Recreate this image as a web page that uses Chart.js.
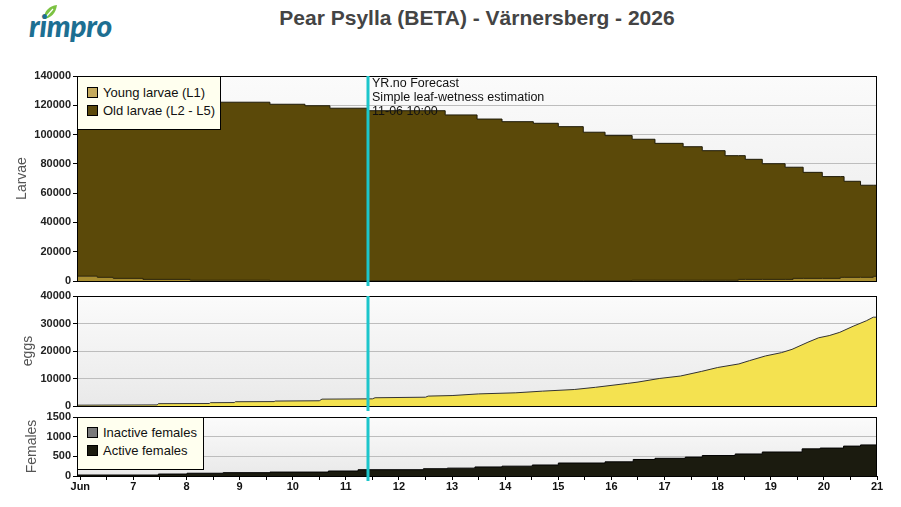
<!DOCTYPE html>
<html>
<head>
<meta charset="utf-8">
<script src="https://cdn.jsdelivr.net/npm/chart.js@4.4.1/dist/chart.umd.min.js"></script>
<style>
  body { margin: 0; background: #fff; width: 901px; height: 507px; overflow: hidden; position: relative; font-family: Arial, "Liberation Sans", sans-serif; }
  .pane { position: absolute; left: 0; width: 901px; }
  #title { position: absolute; left: 0; width: 954px; top: 6px; text-align: center; font-weight: bold; font-size: 21px; color: #444; }
  #logo { position: absolute; left: 29px; top: 7px; font-family: Lato, sans-serif; font-weight: 900; font-style: italic; font-size: 30px; color: #1d6f92; letter-spacing: -0.3px; }
  #leaf { position: absolute; left: 42px; top: 4px; }
  .legend { position: absolute; background: #ffffef; border: 1px solid #000; box-sizing: border-box; font-size: 13px; color: #111; }
  .legend .row { position: absolute; left: 9px; height: 14px; line-height: 14px; white-space: nowrap; }
  .legend .sw { display: inline-block; width: 9px; height: 9px; border: 1px solid #000; vertical-align: -1px; margin-right: 5px; }
</style>
</head>
<body>
<svg id="leaf" width="16" height="16" viewBox="0 0 16 16"><path d="M2 15 C2 7 7 2 15 1 C14 9 9 14 2 15 Z" fill="#7cc242"/><path d="M3 14 L11 5" stroke="#fff" stroke-width="1.2"/></svg>
<div id="logo">rimpro</div>
<div id="title">Pear Psylla (BETA) - Värnersberg - 2026</div>

<div class="pane" style="top:66px;height:225px"><canvas id="larvaeChart"></canvas></div>
<div class="pane" style="top:286px;height:130px"><canvas id="eggChart"></canvas></div>
<div class="pane" style="top:407px;height:100px"><canvas id="femaleChart"></canvas></div>

<div class="legend" id="legendTop" style="left:77px;top:76px;width:144px;height:54px"></div>
<div class="legend" id="legendBottom" style="left:77px;top:417px;width:127px;height:53px"></div>

<script>
// time axis in days of June
var dayTicks = [6, 7, 8, 9, 10, 11, 12, 13, 14, 15, 16, 17, 18, 19, 20, 21];
var dayLabels = ['Jun', '7', '8', '9', '10', '11', '12', '13', '14', '15', '16', '17', '18', '19', '20', '21'];
var startDay = 5.938;
var endDay = 21;
var forecastDay = 11.417;
var forecastNote = ['YR.no Forecast', 'Simple leaf-wetness estimation', '11-06 10:00'];

// larvae (stepped)
var larvaeDays = [5.94, 6.32, 6.62, 7.18, 8.07, 8.63, 9.57, 10.23, 10.70, 11.40, 12.87, 13.47, 13.94, 14.53, 15.00, 15.47, 15.88, 16.39, 16.82, 17.35, 17.71, 18.14, 18.39, 18.52, 18.84, 19.27, 19.42, 19.61, 19.97, 20.31, 20.38, 20.69, 20.93, 21.0];
var youngLarvae = [3300, 2500, 1800, 1100, 500, 500, 200, 200, 200, 200, 200, 200, 200, 200, 200, 200, 200, 500, 500, 500, 500, 500, 1100, 1100, 1100, 1100, 1800, 1800, 1800, 2500, 2500, 2500, 3200, 3200];
var oldLarvae = [119700, 120500, 121200, 121900, 122500, 121600, 120500, 119500, 117800, 116100, 113200, 110400, 108600, 107500, 105200, 101400, 99100, 96300, 93500, 91200, 88500, 85100, 84500, 82000, 79000, 76600, 75900, 72400, 69500, 68800, 65600, 62900, 62200, 62200];

// eggs
var eggDays = [5.94, 7.45, 7.47, 8.43, 8.45, 8.90, 8.92, 9.65, 9.67, 10.50, 10.55, 11.50, 11.55, 12.50, 12.55, 13.0, 13.5, 14.2, 14.7, 15.3, 15.7, 16.3, 16.5, 16.9, 17.3, 17.7, 18.0, 18.4, 18.6, 18.9, 19.2, 19.4, 19.7, 19.9, 20.1, 20.3, 20.55, 20.8, 20.93, 21.0];
var eggs = [300, 400, 850, 900, 1200, 1250, 1550, 1600, 1800, 1900, 2500, 2600, 3000, 3200, 3600, 3800, 4400, 4800, 5400, 6000, 6800, 8200, 8700, 10000, 10900, 12600, 14000, 15300, 16500, 18200, 19400, 20600, 23200, 24800, 25600, 26800, 29000, 31000, 32300, 32300];

// females (stepped)
var femaleDays = [5.94, 7.47, 8.01, 8.69, 9.57, 10.67, 11.23, 12.46, 12.91, 13.43, 13.94, 14.51, 15.00, 15.88, 16.41, 16.82, 17.39, 17.71, 18.33, 18.84, 19.59, 19.93, 20.37, 20.69, 21.0];
var activeFemales = [25, 50, 70, 85, 100, 127, 160, 185, 200, 230, 250, 280, 330, 360, 420, 450, 480, 520, 560, 610, 690, 710, 760, 790, 790];
var inactiveFemales = [0, 0, 0, 0, 0, 0, 0, 0, 0, 0, 0, 0, 0, 0, 0, 0, 0, 0, 0, 0, 0, 0, 0, 0, 0];

function pts(xs, ys) {
	var out = [];
	for (var i = 0; i < xs.length; i++) out.push({x: xs[i], y: ys[i]});
	return out;
}

var FONT = 'Arial, "Liberation Sans", sans-serif';

var panelDeco = {
	id: 'panelDeco',
	beforeDraw: function(chart) {
		var a = chart.chartArea, ctx = chart.ctx;
		var g = ctx.createLinearGradient(0, a.top, 0, a.bottom);
		g.addColorStop(0, '#fbfbfb');
		g.addColorStop(1, '#e9e9e9');
		ctx.save();
		ctx.fillStyle = g;
		ctx.fillRect(a.left, a.top, a.right - a.left, a.bottom - a.top);
		ctx.restore();
	},
	afterDatasetsDraw: function(chart) {
		var a = chart.chartArea, ctx = chart.ctx;
		ctx.save();
		ctx.strokeStyle = '#000';
		ctx.lineWidth = 1;
		ctx.strokeRect(a.left + 0.5, a.top + 0.5, a.right - a.left - 1, a.bottom - a.top);
		var x = chart.scales.x.getPixelForValue(forecastDay);
		ctx.fillStyle = '#1cc6cb';
		ctx.fillRect(Math.round(x) - 1.5, a.top, 3, a.bottom - a.top + 5);
		var note = chart.options.plugins.panelDeco.note;
		if (note) {
			ctx.fillStyle = '#111';
			ctx.font = '12.5px ' + FONT;
			ctx.textBaseline = 'middle';
			for (var i = 0; i < note.length; i++) ctx.fillText(note[i], x + 4, a.top + 7.5 + i * 14);
		}
		ctx.restore();
	}
};

function yAxis(max, step, title, titlePad, stacked) {
	return {
		min: 0, max: max, stacked: stacked,
		afterFit: function(s) { s.width = 77; },
		ticks: { stepSize: step, color: '#222', font: { family: FONT, size: 11, weight: 'bold' }, padding: 2,
			callback: function(v) { return String(v); } },
		grid: { color: '#bdbdbd', tickColor: '#000', tickLength: 4 },
		border: { display: false },
		title: { display: true, text: title, color: '#555', font: { family: FONT, size: 14 }, padding: { top: titlePad, bottom: 0 } }
	};
}

function xAxis(show) {
	return {
		type: 'linear', min: startDay, max: endDay, display: show,
		afterFit: function(s) { s.height = show ? 25 : 0; },
		afterBuildTicks: function(s) {
			var t = [];
			dayTicks.forEach(function(d) { t.push({value: d}); if (d < endDay) t.push({value: d + 0.5}); });
			s.ticks = t;
		},
		ticks: {
			autoSkip: false, maxRotation: 0, padding: 0, color: '#111',
			font: { family: FONT, size: 11, weight: 'bold' },
			callback: function(v) { var i = dayTicks.indexOf(v); return i >= 0 ? dayLabels[i] : ''; }
		},
		grid: { drawOnChartArea: false, tickColor: '#000', tickLength: 4 },
		border: { display: false }
	};
}

var common = { responsive: true, maintainAspectRatio: false, animation: false,
	elements: { point: { radius: 0 }, line: { tension: 0 } } };

var larvaeChart = new Chart(document.getElementById('larvaeChart').getContext('2d'), {
	type: 'line',
	data: { datasets: [
		{ label: 'Young larvae (L1)', data: pts(larvaeDays, youngLarvae), stepped: true, fill: 'origin', backgroundColor: '#a88d30', borderColor: '#2a2205', borderWidth: 1 },
		{ label: 'Old larvae (L2 - L5)', data: pts(larvaeDays, oldLarvae), stepped: true, fill: '-1', backgroundColor: '#5b4909', borderColor: '#1e1a08', borderWidth: 1 }
	]},
	options: Object.assign({}, common, {
		layout: { padding: { top: 10, bottom: 10, right: 24, left: 0 } },
		plugins: { legend: { display: false }, tooltip: { enabled: false }, panelDeco: { note: forecastNote } },
		scales: { x: xAxis(false), y: yAxis(140000, 20000, 'Larvae', 14, true) }
	}),
	plugins: [panelDeco]
});

var eggChart = new Chart(document.getElementById('eggChart').getContext('2d'), {
	type: 'line',
	data: { datasets: [
		{ label: 'eggs', data: pts(eggDays, eggs), fill: 'origin', backgroundColor: '#f4e250', borderColor: '#333', borderWidth: 1 }
	]},
	options: Object.assign({}, common, {
		layout: { padding: { top: 10, bottom: 10, right: 24, left: 0 } },
		plugins: { legend: { display: false }, tooltip: { enabled: false }, panelDeco: {} },
		scales: { x: xAxis(false), y: yAxis(40000, 10000, 'eggs', 20, false) }
	}),
	plugins: [panelDeco]
});

var femaleChart = new Chart(document.getElementById('femaleChart').getContext('2d'), {
	type: 'line',
	data: { datasets: [
		{ label: 'Inactive females', data: pts(femaleDays, inactiveFemales), stepped: true, fill: 'origin', backgroundColor: '#7a7a7a', borderColor: 'rgba(0,0,0,0)', borderWidth: 1 },
		{ label: 'Active females', data: pts(femaleDays, activeFemales), stepped: true, fill: 'origin', backgroundColor: '#1b1b0f', borderColor: '#000', borderWidth: 1 }
	]},
	options: Object.assign({}, common, {
		layout: { padding: { top: 10, bottom: 6, right: 24, left: 0 } },
		plugins: { legend: { display: false }, tooltip: { enabled: false }, panelDeco: {} },
		scales: { x: xAxis(true), y: yAxis(1500, 500, 'Females', 24, false) }
	}),
	plugins: [panelDeco]
});

// legend boxes built from dataset labels
function makeLegend(id, chart, swatches, firstTop) {
	var box = document.getElementById(id);
	chart.data.datasets.forEach(function(ds, i) {
		var row = document.createElement('div');
		row.className = 'row';
		row.style.top = (firstTop + i * 18) + 'px';
		row.innerHTML = '<span class="sw" style="background:' + swatches[i] + '"></span>' + ds.label;
		box.appendChild(row);
	});
}
makeLegend('legendTop', larvaeChart, ['#c4aa5c', '#5b4909'], 9);
makeLegend('legendBottom', femaleChart, ['#7a7a7a', '#1b1b0f'], 8);
</script>
</body>
</html>
